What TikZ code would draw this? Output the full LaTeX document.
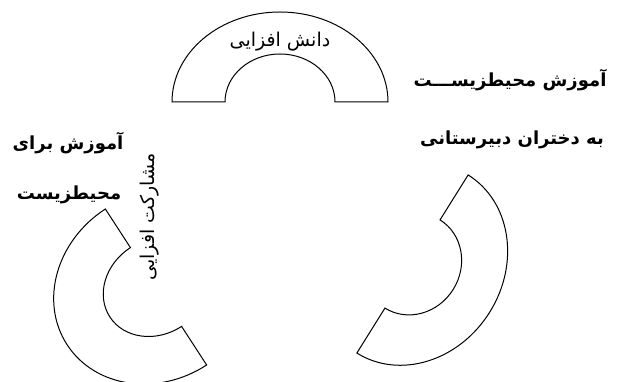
\documentclass[tikz,border=0pt]{standalone}
\usepackage{fontspec}
\newfontfamily\fa[Script=Arabic]{DejaVu Sans}
\TeXXeTstate=1
\usepackage{tikz}

\begin{document}
\begin{tikzpicture}[x=1pt, y=1pt,
  arcline/.style={draw, line width=1pt, line join=miter},
  lab/.style={font=\fa\fontsize{19}{22}\selectfont, inner sep=0pt},
  head/.style={font=\fa\bfseries\fontsize{18}{21}\selectfont, inner sep=0pt},
]
\useasboundingbox (0,0) rectangle (619,382);
% top block arc
\begin{scope}[shift={(280,280)}]
  \draw[arcline] (108,0) arc[start angle=0, end angle=180, x radius=108, y radius=90]
    -- (-55,0) arc[start angle=180, end angle=0, x radius=55, y radius=48] -- cycle;
\end{scope}
% right block arc
\begin{scope}[shift={(412.5,118)}, rotate=-122]
  \draw[arcline] (105,0) arc[start angle=0, end angle=180, x radius=105, y radius=91]
    -- (-52,0) arc[start angle=180, end angle=0, x radius=52, y radius=48] -- cycle;
\end{scope}
% lower left block arc
\begin{scope}[shift={(156,95)}, rotate=123]
  \draw[arcline] (93,0) arc[start angle=0, end angle=180, x radius=93, y radius=106]
    -- (-47,0) arc[start angle=180, end angle=0, x radius=47, y radius=55] -- cycle;
\end{scope}
\node[lab] (dan) at (280,340) {\beginR دانش افزایی\endR};
\node[lab, rotate=90] (mosh) at (150,165) {\beginR مشارکت افزایی\endR};
\node[head] (dokh1) at (510,302) {\beginR آموزش محیطزیســـت\endR};
\node[head] (dokh2) at (512,242) {\beginR به دختران دبیرستانی\endR};
\node[head] (bara1) at (68,239) {\beginR آموزش برای\endR};
\node[head] (bara2) at (69,187) {\beginR محیطزیست\endR};
\end{tikzpicture}
\end{document}
